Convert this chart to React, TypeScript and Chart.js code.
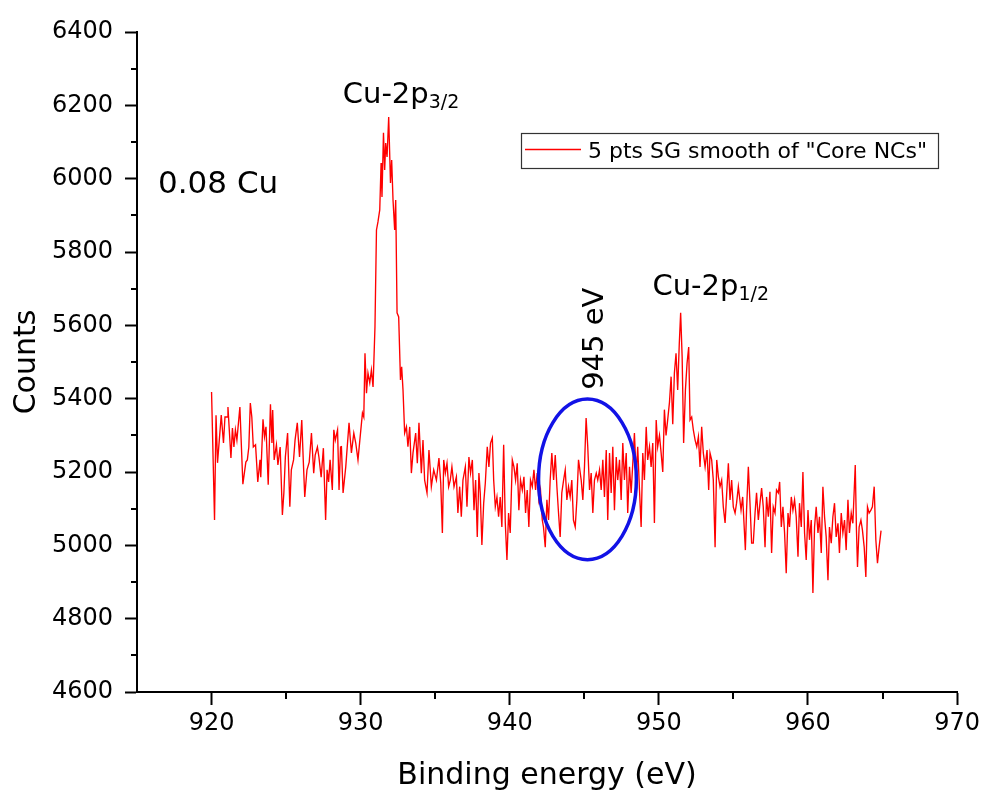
import React, { useEffect, useRef } from "react";
import { Chart, registerables } from "chart.js";

Chart.register(...registerables);

// Binding energy (eV)
const energy: number[] = [
  920.0, 920.2, 920.3, 920.4, 920.65, 920.8, 920.9, 921.05, 921.1, 921.3,
  921.4, 921.5, 921.6, 921.7, 921.9, 922.1, 922.3, 922.4, 922.5, 922.6,
  922.7, 922.8, 922.95, 923.1, 923.25, 923.3, 923.45, 923.55, 923.65, 923.8,
  923.95, 924.05, 924.1, 924.2, 924.35, 924.45, 924.6, 924.75, 924.85, 924.95,
  925.1, 925.25, 925.35, 925.5, 925.6, 925.75, 925.9, 926.05, 926.15, 926.25,
  926.4, 926.55, 926.7, 926.85, 926.95, 927.1, 927.2, 927.35, 927.5, 927.65,
  927.75, 927.85, 927.95, 928.1, 928.2, 928.3, 928.45, 928.55, 928.65,
  928.71, 928.82, 929.0, 929.22, 929.38, 929.54, 929.67, 929.82, 929.99, 930.12,
  930.21, 930.29, 930.39, 930.49, 930.61, 930.72, 930.83, 930.96, 931.06, 931.16,
  931.28, 931.37, 931.43, 931.53, 931.61, 931.68, 931.77, 931.88, 932.0, 932.08,
  932.17, 932.28, 932.35, 932.44, 932.55, 932.67, 932.75, 932.84, 932.95, 933.07,
  933.17, 933.29, 933.4, 933.51, 933.69, 933.8, 933.91, 934.07, 934.18, 934.29,
  934.45, 934.58, 934.74, 934.9, 935.08,
  935.25, 935.37, 935.48, 935.57, 935.68, 935.79, 935.9, 936.01, 936.12, 936.26,
  936.42, 936.52, 936.64, 936.75, 936.86, 937.02, 937.13, 937.26, 937.37, 937.49,
  937.6, 937.71, 937.82, 937.93, 938.02, 938.13, 938.25, 938.36, 938.49, 938.6,
  938.71, 938.83, 938.92, 939.03, 939.14, 939.25, 939.36, 939.47, 939.59, 939.7,
  939.81, 939.92, 940.03, 940.17, 940.28, 940.39, 940.5, 940.61, 940.72, 940.84,
  940.95, 941.06, 941.17, 941.28, 941.39, 941.51, 941.62, 941.73, 941.84, 941.95,
  942.06, 942.18, 942.26, 942.38, 942.49, 942.6, 942.71, 942.82, 942.94, 943.05,
  943.16, 943.27, 943.38, 943.49, 943.61, 943.72, 943.83, 943.94, 944.05, 944.16,
  944.27, 944.39, 944.5, 944.61,
  944.79, 944.9, 945.01, 945.12, 945.23, 945.35, 945.46, 945.57, 945.68, 945.8,
  945.9, 946.02, 946.13, 946.24, 946.35, 946.47, 946.57, 946.69, 946.8, 946.91,
  947.02, 947.14, 947.24, 947.36, 947.47, 947.58, 947.69, 947.81, 947.91, 948.03,
  948.14, 948.25, 948.36, 948.48, 948.58, 948.7, 948.81, 948.92, 949.03, 949.15,
  949.25, 949.37, 949.48, 949.59, 949.7, 949.82, 949.92, 950.04, 950.15, 950.26,
  950.37, 950.48, 950.59, 950.71, 950.82, 950.93, 951.04, 951.15, 951.26, 951.37,
  951.46, 951.56, 951.66, 951.78, 951.89, 952.0, 952.09, 952.2, 952.31, 952.43,
  952.54, 952.65, 952.76, 952.87, 952.98, 953.1, 953.23, 953.34, 953.43, 953.54,
  953.65, 953.77, 953.88, 953.99, 954.1, 954.21, 954.32, 954.44, 954.55, 954.66,
  954.77, 954.88, 954.99, 955.11, 955.21, 955.33,
  955.51, 955.62, 955.8, 955.88, 956.0, 956.11, 956.22, 956.33, 956.45, 956.55,
  956.67, 956.78, 956.89, 957.0, 957.12, 957.22, 957.34, 957.45, 957.56, 957.67,
  957.79, 957.89, 958.01, 958.1, 958.21, 958.32, 958.43, 958.54, 958.66, 958.76,
  958.88, 958.99, 959.1, 959.21, 959.33, 959.43, 959.55, 959.66, 959.77, 959.88,
  960.0, 960.1, 960.22, 960.33, 960.44, 960.55, 960.67, 960.77, 960.89, 961.0,
  961.11, 961.22, 961.34, 961.44, 961.56, 961.67, 961.78, 961.89, 962.01, 962.11,
  962.23, 962.34, 962.45, 962.56, 962.68, 962.78, 962.9, 963.01, 963.17, 963.25,
  963.32, 963.43, 963.55, 963.65, 963.77, 963.88, 963.99, 964.1, 964.22, 964.32,
  964.44, 964.55, 964.66, 964.77, 964.9,
];

// Counts
const counts: number[] = [
  5418, 5069, 5355, 5225, 5355, 5279, 5350, 5350, 5377, 5238,
  5320, 5268, 5315, 5287, 5377, 5167, 5227, 5233, 5268, 5388,
  5350, 5268, 5274, 5173, 5233, 5186, 5344, 5296, 5323, 5165,
  5385, 5279, 5369, 5233, 5274, 5219, 5268, 5083, 5143, 5241,
  5306, 5105, 5206, 5233, 5287, 5334, 5241, 5342, 5233, 5132,
  5206, 5227, 5306, 5197, 5246, 5268, 5241, 5186, 5265, 5069,
  5206, 5173, 5233, 5151, 5315, 5287, 5315, 5151, 5268,
  5269, 5143, 5214, 5334, 5252, 5306, 5279, 5233, 5306, 5361,
  5350, 5524, 5415, 5470, 5443, 5478, 5432, 5596, 5860, 5882,
  5915, 6043, 5950, 6125, 6024, 6097, 6059, 6168, 5988, 6051,
  5942, 5860, 5942, 5634, 5623, 5451, 5487, 5424, 5306, 5323,
  5269, 5323, 5197, 5252, 5306, 5224, 5334, 5197, 5287, 5178,
  5143, 5260, 5160, 5206, 5178,
  5238, 5170, 5034, 5233, 5197, 5224, 5160, 5178, 5214, 5160,
  5187, 5088, 5160, 5078, 5178, 5214, 5105, 5241, 5197, 5233,
  5096, 5178, 5023, 5197, 5143, 5001, 5115, 5170, 5269, 5214,
  5279, 5293, 5178, 5105, 5132, 5078, 5132, 5050, 5274, 5061,
  4960, 5088, 5034, 5233, 5214, 5178, 5224, 5096, 5178, 5151,
  5187, 5088, 5151, 5050, 5178, 5160, 5206, 5151, 5197, 5124,
  5151, 5069, 5050, 4995, 5124, 5069, 5178, 5252, 5178, 5246,
  5160, 5088, 5023, 5143, 5178, 5206, 5124, 5160, 5132, 5178,
  5069, 5050, 5124, 5233,
  5178, 5124, 5214, 5347, 5269, 5151, 5197, 5088, 5178, 5197,
  5178, 5206, 5151, 5233, 5132, 5260, 5069, 5252, 5143, 5269,
  5096, 5241, 5178, 5233, 5124, 5279, 5178, 5252, 5088, 5214,
  5143, 5224, 5306, 5187, 5269, 5151, 5050, 5252, 5178, 5323,
  5233, 5269, 5214, 5279, 5061, 5342, 5269, 5300, 5252, 5200,
  5370, 5300, 5342, 5390, 5460, 5330, 5470, 5524, 5424, 5552,
  5634, 5514, 5279, 5424, 5497, 5541, 5342, 5350, 5315, 5287,
  5269, 5296, 5214, 5323, 5252, 5214, 5260, 5151, 5252, 5233,
  5178, 4995, 5233, 5187, 5160, 5178, 5105, 5061, 5143, 5224,
  5124, 5178, 5105, 5088, 5115, 5160,
  5096, 5132, 4987, 5096, 5214, 5115, 5006, 5006, 5088, 5143,
  5069, 5115, 5156, 5105, 4995, 5132, 5078, 5146, 4979, 5105,
  5088, 5151, 5143, 5173, 5050, 5105, 5034, 4924, 5088, 5050,
  5132, 5096, 5124, 5078, 4969, 5115, 5050, 5200, 5034, 4960,
  5096, 5015, 5069, 4870, 5050, 5105, 5034, 5078, 4979, 5160,
  5078, 5023, 4905, 5050, 5006, 5078, 5115, 5023, 5060, 4979,
  5088, 5034, 5069, 4987, 5124, 5034, 5088, 5060, 5219, 5042,
  4941, 5050, 5069, 5042, 4995, 4914, 5105, 5088, 5096, 5105,
  5160, 5015, 4951, 4995, 5040,
];

const xMajorTicks = [920, 930, 940, 950, 960, 970];
const xMinorTicks = [925, 935, 945, 955, 965];
const yMajorTicks = [4600, 4800, 5000, 5200, 5400, 5600, 5800, 6000, 6200, 6400];
const yMinorTicks = [4700, 4900, 5100, 5300, 5500, 5700, 5900, 6100, 6300];

const seriesLabel = '5 pts SG smooth of "Core NCs"';
const xTitle = "Binding energy (eV)";
const yTitle = "Counts";
const sampleLabel = "0.08 Cu";
const peakLabels = [
  { main: "Cu-2p", sub: "3/2", x: 928.8, y: 6206 },
  { main: "Cu-2p", sub: "1/2", x: 949.57, y: 5683 },
];
const satelliteLabel = { text: "945 eV", x: 946.22, y: 5424 };
const satelliteEllipse = { cx: 945.21, cy: 5180, rx: 3.28, ry: 219 };

const FAMILY = '"DejaVu Sans", sans-serif';

export default function App() {
  const ref = useRef<HTMLCanvasElement>(null);

  useEffect(() => {
    const canvas = ref.current;
    if (!canvas) return;

    const annotations = {
      id: "annotations",
      afterDraw(chart: any) {
        const ctx = chart.ctx as CanvasRenderingContext2D;
        const xs = chart.scales.x;
        const ys = chart.scales.y;
        const area = chart.chartArea;
        ctx.save();

        // minor ticks
        ctx.strokeStyle = "#000";
        ctx.lineWidth = 2;
        ctx.beginPath();
        for (const v of xMinorTicks) {
          const px = Math.round(xs.getPixelForValue(v));
          ctx.moveTo(px, area.bottom);
          ctx.lineTo(px, area.bottom + 7);
        }
        for (const v of yMinorTicks) {
          const py = Math.round(ys.getPixelForValue(v));
          ctx.moveTo(area.left, py);
          ctx.lineTo(area.left - 6, py);
        }
        ctx.stroke();

        ctx.fillStyle = "#000";
        ctx.textBaseline = "alphabetic";
        ctx.textAlign = "left";

        // sample label
        ctx.font = `31px ${FAMILY}`;
        ctx.fillText(sampleLabel, xs.getPixelForValue(916.41), ys.getPixelForValue(5961));

        // peak labels with subscripts
        for (const p of peakLabels) {
          const px = xs.getPixelForValue(p.x);
          const py = ys.getPixelForValue(p.y);
          ctx.font = `29px ${FAMILY}`;
          ctx.fillText(p.main, px, py);
          const w = ctx.measureText(p.main).width;
          ctx.font = `19px ${FAMILY}`;
          ctx.fillText(p.sub, px + w, py + 5);
        }

        // rotated satellite label
        ctx.save();
        ctx.translate(xs.getPixelForValue(satelliteLabel.x), ys.getPixelForValue(satelliteLabel.y));
        ctx.rotate(-Math.PI / 2);
        ctx.font = `29px ${FAMILY}`;
        ctx.fillText(satelliteLabel.text, 0, 0);
        ctx.restore();

        // ellipse around the satellite
        const cx = xs.getPixelForValue(satelliteEllipse.cx);
        const cy = ys.getPixelForValue(satelliteEllipse.cy);
        const rx = Math.abs(xs.getPixelForValue(satelliteEllipse.cx + satelliteEllipse.rx) - cx);
        const ry = Math.abs(ys.getPixelForValue(satelliteEllipse.cy + satelliteEllipse.ry) - cy);
        ctx.beginPath();
        ctx.ellipse(cx, cy, rx, ry, 0, 0, Math.PI * 2);
        ctx.strokeStyle = "rgb(18,18,230)";
        ctx.lineWidth = 3.5;
        ctx.stroke();

        // legend box
        const lx = 521;
        const ly = 133;
        const lw = 417;
        const lh = 35;
        ctx.fillStyle = "#fff";
        ctx.fillRect(lx, ly, lw, lh);
        ctx.strokeStyle = "#333";
        ctx.lineWidth = 1.2;
        ctx.strokeRect(lx + 0.5, ly + 0.5, lw, lh);
        ctx.beginPath();
        ctx.moveTo(lx + 4, ly + 16.5);
        ctx.lineTo(lx + 60, ly + 16.5);
        ctx.strokeStyle = "#ff0000";
        ctx.lineWidth = 1.5;
        ctx.stroke();
        ctx.fillStyle = "#000";
        ctx.font = `22px ${FAMILY}`;
        ctx.fillText(seriesLabel, lx + 67, ly + 25);

        ctx.restore();
      },
    };

    const n = Math.min(energy.length, counts.length);
    const points = [] as { x: number; y: number }[];
    for (let i = 0; i < n; i++) points.push({ x: energy[i], y: counts[i] });

    const chart = new Chart(canvas, {
      type: "line",
      data: {
        datasets: [
          {
            label: seriesLabel,
            data: points,
            borderColor: "#ff0000",
            borderWidth: 1.35,
            pointRadius: 0,
            tension: 0,
            fill: false,
          },
        ],
      },
      options: {
        responsive: false,
        animation: false,
        devicePixelRatio: 1,
        layout: { padding: { left: 0, right: 26, top: 32, bottom: 0 } },
        plugins: { legend: { display: false }, tooltip: { enabled: false } },
        scales: {
          x: {
            type: "linear",
            min: 915,
            max: 970,
            afterBuildTicks: (s: any) => {
              s.ticks = xMajorTicks.map((v) => ({ value: v }));
            },
            afterFit: (s: any) => {
              s.height = 109;
            },
            grid: {
              display: true,
              drawOnChartArea: false,
              drawTicks: true,
              tickLength: 13,
              tickWidth: 2,
              tickColor: "#000",
            },
            border: { display: true, color: "#000", width: 2 },
            ticks: {
              color: "#000",
              font: { family: FAMILY, size: 24 },
              padding: 4,
              maxRotation: 0,
              autoSkip: false,
              callback: (v: any) => String(v),
            },
            title: {
              display: true,
              text: xTitle,
              color: "#000",
              font: { family: FAMILY, size: 30 },
              padding: { top: 0, bottom: 7 },
            },
          },
          y: {
            type: "linear",
            min: 4600,
            max: 6400,
            afterBuildTicks: (s: any) => {
              s.ticks = yMajorTicks.map((v) => ({ value: v }));
            },
            afterFit: (s: any) => {
              s.width = 137;
            },
            grid: {
              display: true,
              drawOnChartArea: false,
              drawTicks: true,
              tickLength: 12,
              tickWidth: 2,
              tickColor: "#000",
            },
            border: { display: true, color: "#000", width: 2 },
            ticks: {
              color: "#000",
              font: { family: FAMILY, size: 24 },
              padding: 12,
              autoSkip: false,
              callback: (v: any) => String(v),
            },
            title: {
              display: true,
              text: yTitle,
              color: "#000",
              font: { family: FAMILY, size: 30 },
              padding: { top: 9, bottom: 0 },
            },
          },
        },
      } as any,
      plugins: [annotations],
    });

    return () => chart.destroy();
  }, []);

  return (
    <div style={{ position: "absolute", left: 0, top: 0, width: 984, height: 801, background: "#fff" }}>
      <canvas ref={ref} width={984} height={801} style={{ display: "block" }} />
    </div>
  );
}
